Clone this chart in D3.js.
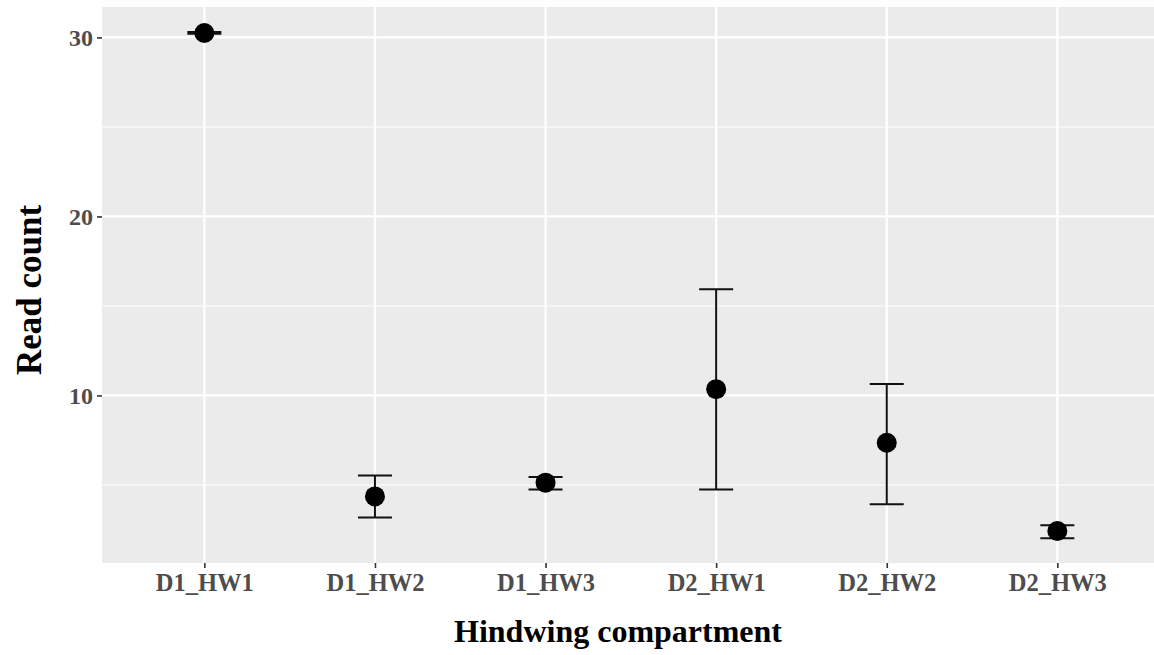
<!DOCTYPE html>
<html>
<head>
<meta charset="utf-8">
<script src="https://cdn.jsdelivr.net/npm/d3@7"></script>
<style>
  html, body { margin: 0; padding: 0; background: #ffffff; }
  svg { display: block; }
  .tick-label { font-family: "Liberation Serif", "Times New Roman", serif; font-weight: bold; fill: #4d4d4d; }
  .axis-title { font-family: "Liberation Serif", "Times New Roman", serif; font-weight: bold; fill: #000000; }
</style>
</head>
<body>
<svg id="chart" width="1154" height="655"></svg>
<script>
// Hindwing compartments and read-count summaries (mean with lower/upper bounds)
const categories = ["D1_HW1", "D1_HW2", "D1_HW3", "D2_HW1", "D2_HW2", "D2_HW3"];
const means  = [30.25, 4.36, 5.13, 10.35, 7.36, 2.43];
const lowers = [30.2, 3.18, 4.74, 4.74, 3.92, 2.02];
const uppers = [30.3, 5.53, 5.45, 15.93, 10.64, 2.75];
const yMajorTicks = [10, 20, 30];
const yMinorTicks = [5, 15, 25];
const xTitle = "Hindwing compartment";
const yTitle = "Read count";

const W = 1154, H = 655;
const panel = { left: 102, top: 7, right: 1159.7, bottom: 563 };

const svg = d3.select("#chart");

const x = d3.scalePoint()
  .domain(categories)
  .range([panel.left, panel.right])
  .padding(0.6);

const y = d3.scaleLinear()
  .domain([0.64, 31.7])
  .range([panel.bottom, panel.top]);

// panel background
svg.append("rect")
  .attr("x", panel.left).attr("y", panel.top)
  .attr("width", panel.right - panel.left)
  .attr("height", panel.bottom - panel.top)
  .attr("fill", "#ebebeb");

// minor grid
svg.append("g").selectAll("line").data(yMinorTicks).join("line")
  .attr("x1", panel.left).attr("x2", panel.right)
  .attr("y1", d => y(d)).attr("y2", d => y(d))
  .attr("stroke", "#ffffff").attr("stroke-width", 1.1);

// major grid
svg.append("g").selectAll("line").data(yMajorTicks).join("line")
  .attr("x1", panel.left).attr("x2", panel.right)
  .attr("y1", d => y(d)).attr("y2", d => y(d))
  .attr("stroke", "#ffffff").attr("stroke-width", 2.2);

svg.append("g").selectAll("line").data(categories).join("line")
  .attr("x1", d => x(d)).attr("x2", d => x(d))
  .attr("y1", panel.top).attr("y2", panel.bottom)
  .attr("stroke", "#ffffff").attr("stroke-width", 2.2);

// axes (ticks and labels only)
const yAxis = svg.append("g")
  .attr("transform", `translate(${panel.left},0)`)
  .call(d3.axisLeft(y).tickValues(yMajorTicks).tickSize(5).tickPadding(4).tickFormat(d3.format("d")));
yAxis.select(".domain").remove();
yAxis.selectAll(".tick line").attr("stroke", "#333333").attr("stroke-width", 1.6);
yAxis.selectAll(".tick text")
  .attr("class", "tick-label")
  .style("font-size", "24px")
  .attr("dy", "0.34em");

const xAxis = svg.append("g")
  .attr("transform", `translate(0,${panel.bottom})`)
  .call(d3.axisBottom(x).tickSize(5).tickPadding(6));
xAxis.select(".domain").remove();
xAxis.selectAll(".tick line").attr("stroke", "#333333").attr("stroke-width", 1.6);
xAxis.selectAll(".tick text")
  .attr("class", "tick-label")
  .style("font-size", "24.5px")
  .attr("dy", "0.71em");

// error bars
const bars = svg.append("g").selectAll("g").data(categories).join("g");
bars.append("line")
  .attr("x1", d => x(d)).attr("x2", d => x(d))
  .attr("y1", (d, i) => y(lowers[i])).attr("y2", (d, i) => y(uppers[i]))
  .attr("stroke", "#111111").attr("stroke-width", 2);
bars.append("line")
  .attr("x1", d => x(d) - 17).attr("x2", d => x(d) + 17)
  .attr("y1", (d, i) => y(uppers[i])).attr("y2", (d, i) => y(uppers[i]))
  .attr("stroke", "#111111").attr("stroke-width", 2);
bars.append("line")
  .attr("x1", d => x(d) - 17).attr("x2", d => x(d) + 17)
  .attr("y1", (d, i) => y(lowers[i])).attr("y2", (d, i) => y(lowers[i]))
  .attr("stroke", "#111111").attr("stroke-width", 2);

// mean points
svg.append("g").selectAll("circle").data(categories).join("circle")
  .attr("cx", d => x(d))
  .attr("cy", (d, i) => y(means[i]))
  .attr("r", 10)
  .attr("fill", "#000000");

// axis titles
svg.append("text")
  .attr("class", "axis-title")
  .attr("x", 618).attr("y", 642)
  .attr("text-anchor", "middle")
  .style("font-size", "32px")
  .text(xTitle);

svg.append("text")
  .attr("class", "axis-title")
  .attr("transform", "translate(41,290) rotate(-90)")
  .attr("text-anchor", "middle")
  .style("font-size", "35px")
  .text(yTitle);
</script>
</body>
</html>
